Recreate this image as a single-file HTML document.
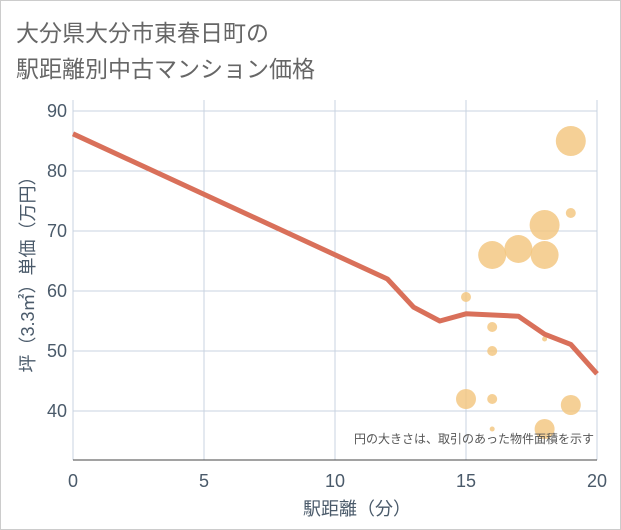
<!DOCTYPE html>
<html><head><meta charset="utf-8"><style>
body{margin:0;background:#fff;font-family:"Liberation Sans","Noto Sans CJK JP",sans-serif;}
.wrap{position:relative;width:619px;height:528px;border:1px solid #ccc;background:#fff;}
</style></head><body>
<div class="wrap">
<svg width="621" height="530" style="position:absolute;left:-1px;top:-1px">
<text x="16" y="41" font-size="23" fill="#666" font-family="Liberation Sans,Noto Sans CJK JP,sans-serif">大分県大分市東春日町の</text>
<text x="16" y="77" font-size="23" fill="#666" font-family="Liberation Sans,Noto Sans CJK JP,sans-serif">駅距離別中古マンション価格</text>
<g id="grid"></g><g id="axes"></g><g id="bubbles"></g><g id="line"></g>
<text x="594" y="443" font-size="12" fill="#555" text-anchor="end" font-family="Liberation Sans,Noto Sans CJK JP,sans-serif">円の大きさは、取引のあった物件面積を示す</text>
<text x="357" y="515" font-size="18" fill="#4a5a6a" text-anchor="middle" font-family="Liberation Sans,Noto Sans CJK JP,sans-serif">駅距離（分）</text>
<text transform="translate(34,270) rotate(-90)" font-size="18" fill="#4a5a6a" text-anchor="middle" font-family="Liberation Sans,Noto Sans CJK JP,sans-serif">坪（3.3㎡）単価（万円）</text>
</svg>
</div>
<script>
const xTicks=[0,5,10,15,20];
const yTicks=[40,50,60,70,80,90];
const lineX=[0,12,13,14,15,17,18,19,20];
const lineY=[86.2,62,57.3,55,56.2,55.8,52.8,51.1,46.2];
const bubX=[19,19,18,17,16,18,15,16,16,18,15,16,19,16,18];
const bubY=[85,73,71,67,66,66,59,54,50,52,42,42,41,37,37];
const bubR=[15,5,15,14,14,14,5,5,5,2.5,10,5,10,2.5,10];
const NS="http://www.w3.org/2000/svg";
const X0=73,X1=597,TOP=100,BOT=460;
const sx=v=>X0+(X1-X0)*v/20;
const sy=v=>111+(90-v)*6;
function mk(p,t,a){const e=document.createElementNS(NS,t);for(const k in a)e.setAttribute(k,a[k]);p.appendChild(e);return e;}
const grid=document.getElementById('grid'),axes=document.getElementById('axes');
yTicks.forEach(v=>{
 const l=mk(grid,'line',{x1:X0,x2:X1,y1:sy(v),y2:sy(v),stroke:'#c8d3e0','stroke-width':1});
 
 
 const t=mk(axes,'text',{x:67,y:sy(v)+6,'font-size':18,fill:'#4a5a6a','text-anchor':'end'});
 t.textContent=v;
 
 
});
xTicks.forEach(v=>{
 const l=mk(grid,'line',{x1:sx(v),x2:sx(v),y1:TOP,y2:BOT,stroke:'#c8d3e0','stroke-width':1});
 
 
 const t=mk(axes,'text',{x:sx(v),y:487,'font-size':18,fill:'#4a5a6a','text-anchor':'middle'});
 t.textContent=v;
 
 
});
const ax=mk(axes,'line',{x1:X0,x2:X1,y1:BOT,y2:BOT,stroke:'#444','stroke-width':1});


const bg=document.getElementById('bubbles');
bubX.forEach((x,i)=>{
 const c=mk(bg,'circle',{cx:sx(x),cy:sy(bubY[i]),r:bubR[i],fill:'#f2c47c','fill-opacity':0.8});
 
 
});
const pl=mk(document.getElementById('line'),'polyline',{points:lineX.map((x,i)=>sx(x)+','+sy(lineY[i])).join(' '),fill:'none',stroke:'#d9705a','stroke-width':5,'stroke-linejoin':'round'});


</script>
</body></html>
